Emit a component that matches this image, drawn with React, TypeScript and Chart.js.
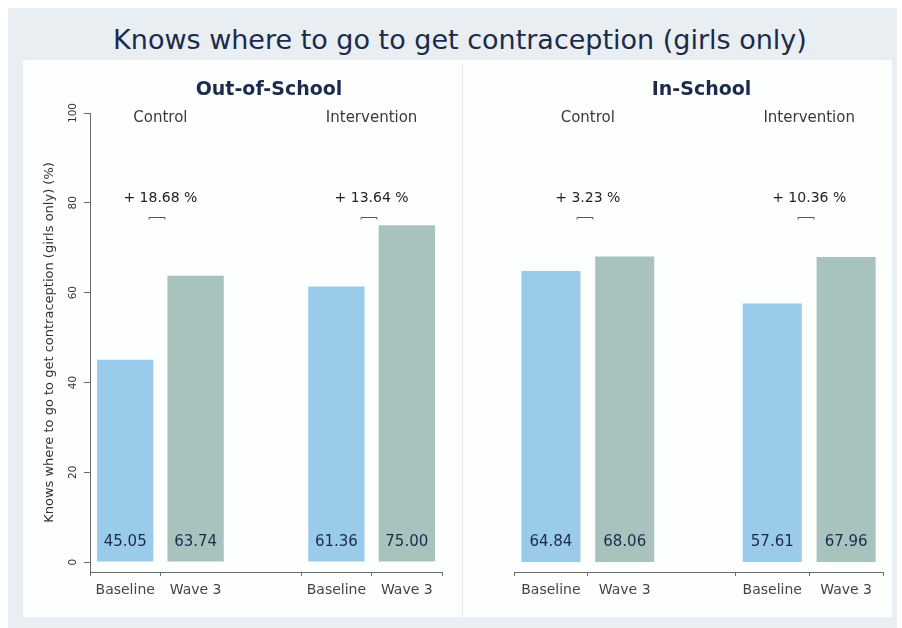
import React, { useEffect, useRef } from 'react';
import { Chart, registerables } from 'chart.js';

Chart.register(...registerables);

const TITLE = 'Knows where to go to get contraception (girls only)';
const Y_TITLE = 'Knows where to go to get contraception (girls only) (%)';
const PANELS = ['Out-of-School', 'In-School'];
const GROUPS = ['Control', 'Intervention'];
const WAVES = ['Baseline', 'Wave 3', '', 'Baseline', 'Wave 3'];
const OUT_OF_SCHOOL = [45.05, 63.74, null, 61.36, 75.0];
const IN_SCHOOL = [64.84, 68.06, null, 57.61, 67.96];
const OUT_DIFF = [18.68, 13.64];
const IN_DIFF = [3.23, 10.36];
const Y_TICKS = [0, 20, 40, 60, 80, 100];

const FONT = 'DejaVu Sans';
const BLUE = '#9bcbea';
const GREEN = '#a8c3be';
const NAVY = '#1c2b4b';
const AXIS = '#6a6a6a';

function makePlugin(panelTitle: string, diffs: number[], showYTicks: boolean) {
  return {
    id: 'panelAnnotations',
    afterDatasetsDraw(chart: any) {
      const { ctx, chartArea, scales } = chart;
      const x = scales.x;
      const y = scales.y;
      const data = chart.data.datasets[0].data as (number | null)[];
      ctx.save();
      ctx.textAlign = 'center';
      ctx.textBaseline = 'middle';
      // panel subtitle
      ctx.fillStyle = NAVY;
      ctx.font = `bold 19px "${FONT}"`;
      ctx.fillText(panelTitle, (chartArea.left + chartArea.right) / 2 + 3, chartArea.top - 23);
      // value labels inside bars
      ctx.font = `15px "${FONT}"`;
      ctx.fillStyle = NAVY;
      data.forEach((v, i) => {
        if (v == null) return;
        ctx.fillText(v.toFixed(2), x.getPixelForValue(i), y.getPixelForValue(0) - 20);
      });
      // group labels and differences
      const pairs = [[0, 1], [3, 4]];
      pairs.forEach(([a, b], g) => {
        const cx = (x.getPixelForValue(a) + x.getPixelForValue(b)) / 2;
        ctx.fillStyle = '#3a3a3a';
        ctx.font = `15px "${FONT}"`;
        ctx.fillText(GROUPS[g], cx, y.getPixelForValue(98.8));
        ctx.fillStyle = '#222';
        ctx.font = `14px "${FONT}"`;
        ctx.fillText(`+ ${diffs[g].toFixed(2)} %`, cx, y.getPixelForValue(81));
        const by = Math.round(y.getPixelForValue(76.8)) + 0.5;
        const bx = Math.round(cx - 3);
        ctx.strokeStyle = '#555';
        ctx.lineWidth = 1;
        ctx.beginPath();
        ctx.moveTo(bx - 8, by + 2);
        ctx.lineTo(bx - 8, by);
        ctx.lineTo(bx + 8, by);
        ctx.lineTo(bx + 8, by + 2);
        ctx.stroke();
      });
      if (showYTicks) {
        ctx.fillStyle = '#333';
        ctx.font = `10.5px "${FONT}"`;
        Y_TICKS.forEach((v) => {
          ctx.save();
          ctx.translate(chartArea.left - 17, y.getPixelForValue(v));
          ctx.rotate(-Math.PI / 2);
          ctx.fillText(String(v), 0, 0);
          ctx.restore();
        });
      }
      ctx.restore();
    },
  };
}

function makeConfig(values: (number | null)[], panelTitle: string, diffs: number[], left: boolean): any {
  return {
    type: 'bar',
    data: {
      labels: WAVES,
      datasets: [
        {
          data: values,
          backgroundColor: (c: any) => (WAVES[c.dataIndex] === 'Baseline' ? BLUE : GREEN),
          borderWidth: 0,
          barPercentage: 0.8,
          categoryPercentage: 1,
        },
      ],
    },
    options: {
      animation: false,
      responsive: false,
      maintainAspectRatio: false,
      layout: { padding: left ? { left: 0, right: 20, top: 53, bottom: 0 } : { left: 52, right: 9, top: 53, bottom: 0 } },
      plugins: { legend: { display: false }, tooltip: { enabled: false }, title: { display: false } },
      scales: {
        x: {
          type: 'category',
          offset: true,
          grid: {
            drawOnChartArea: false,
            drawTicks: true,
            tickLength: 4,
            tickColor: (c: any) => (c.tick && c.tick.label === '' ? 'rgba(0,0,0,0)' : AXIS),
          },
          border: { display: true, color: AXIS, width: 1 },
          ticks: {
            font: { family: FONT, size: 14 },
            color: '#444',
            padding: 6,
            maxRotation: 0,
            minRotation: 0,
            autoSkip: false,
          },
          afterFit: (s: any) => {
            s.height = 45;
          },
        },
        y: {
          display: left,
          min: -2.2,
          max: 100,
          afterBuildTicks: (s: any) => {
            s.ticks = Y_TICKS.map((v) => ({ value: v }));
          },
          grid: { drawOnChartArea: false, drawTicks: true, tickLength: 6, tickColor: AXIS },
          border: { display: true, color: AXIS, width: 1 },
          ticks: { display: false },
          title: {
            display: true,
            text: Y_TITLE,
            font: { family: FONT, size: 13 },
            color: '#333',
            padding: { top: 19, bottom: 0 },
          },
          afterFit: (s: any) => {
            s.width = left ? 67 : 0;
          },
        },
      },
    },
    plugins: [makePlugin(panelTitle, diffs, left)],
  };
}

function Panel({ values, title, diffs, left, x, w }: any) {
  const ref = useRef<HTMLCanvasElement | null>(null);
  useEffect(() => {
    if (!ref.current) return;
    const chart = new Chart(ref.current, makeConfig(values, title, diffs, left));
    return () => chart.destroy();
  }, []);
  return (
    <canvas
      ref={ref}
      width={w}
      height={557}
      style={{ position: 'absolute', left: x, top: 60, width: w, height: 557 }}
    />
  );
}

export default function App() {
  return (
    <div style={{ position: 'absolute', left: 0, top: 0, width: 902, height: 628, background: '#ffffff', overflow: 'hidden' }}>
      <div style={{ position: 'absolute', left: 8, top: 8, width: 889, height: 620, background: '#e8eef1' }} />
      <div style={{ position: 'absolute', left: 23, top: 60, width: 869, height: 557, background: '#fdfefe' }} />
      <div style={{ position: 'absolute', left: 462, top: 64, width: 1, height: 553, background: '#e6eaed' }} />
      <div
        style={{
          position: 'absolute',
          left: 0,
          top: 21,
          width: 920,
          textAlign: 'center',
          fontFamily: FONT,
          fontSize: 27,
          lineHeight: '38px',
          color: NAVY,
        }}
      >
        {TITLE}
      </div>
      <Panel values={OUT_OF_SCHOOL} title={PANELS[0]} diffs={OUT_DIFF} left={true} x={23} w={439} />
      <Panel values={IN_SCHOOL} title={PANELS[1]} diffs={IN_DIFF} left={false} x={462} w={430} />
    </div>
  );
}
